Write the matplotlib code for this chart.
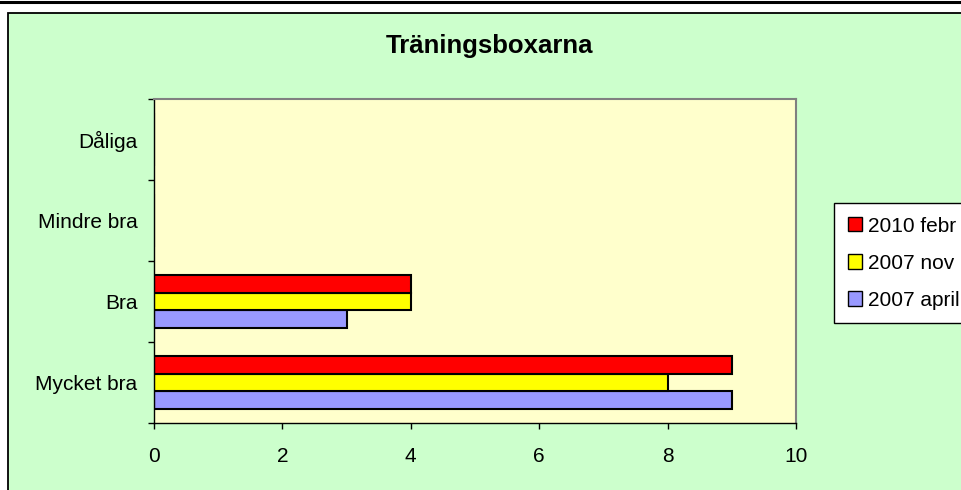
from matplotlib import pyplot as plt
from matplotlib.patches import Rectangle, Patch
from matplotlib.lines import Line2D
import numpy as np

# data
categories = ['Mycket bra', 'Bra', 'Mindre bra', 'Dåliga']
series_names = ['2007 april', '2007 nov', '2010 febr']
april_2007 = [9, 3, 0, 0]
nov_2007 = [8, 4, 0, 0]
febr_2010 = [9, 4, 0, 0]
xticks = [0, 2, 4, 6, 8, 10]

colors = ['#9999FF', '#FFFF00', '#FF0000']

plt.rcParams['font.family'] = ['Liberation Sans', 'DejaVu Sans']

W, H = 962, 490
fig = plt.figure(figsize=(W / 100, H / 100), dpi=100)
fig.patch.set_facecolor('white')

# chart area (green) and the black line at the very top
fig.patches.append(Rectangle((8 / W, -0.05), 1.0, (H - 13) / H + 0.05,
                             transform=fig.transFigure, facecolor='#CCFFCC',
                             edgecolor='black', linewidth=1.3, zorder=-5))
fig.lines.append(Line2D([0, 1], [1 - 2.5 / H, 1 - 2.5 / H], transform=fig.transFigure,
                        color='black', linewidth=2.2))

ax = fig.add_axes([154 / W, 1 - 423 / H, (796 - 154) / W, (423 - 99) / H])
ax.set_facecolor('#FFFFCC')

y = np.arange(len(categories))
h = 0.222
for i, (vals, name) in enumerate(zip([april_2007, nov_2007, febr_2010], series_names)):
    ax.barh(y + (i - 1) * h, vals, height=h, color=colors[i], edgecolor='black',
            linewidth=1.5, label=name)

ax.set_xlim(0, 10)
ax.set_ylim(-0.5, len(categories) - 0.5)
ax.set_xticks(xticks)
ax.set_xticklabels([str(t) for t in xticks], fontsize=15)
ax.tick_params(axis='x', direction='out', length=4.5, width=1, pad=13)

ax.set_yticks(np.arange(-0.5, len(categories), 1.0))
ax.set_yticklabels([])
ax.set_yticks(y, minor=True)
ax.set_yticklabels(categories, minor=True, fontsize=15)
ax.tick_params(axis='y', which='major', direction='out', length=4.5, width=1)
ax.tick_params(axis='y', which='minor', length=0, pad=12)

for s in ['top', 'right']:
    ax.spines[s].set_color('#808080')
    ax.spines[s].set_linewidth(1.5)
for s in ['left', 'bottom']:
    ax.spines[s].set_color('black')
    ax.spines[s].set_linewidth(1.0)

fig.text(490 / W, 1 - 46 / H, 'Träningsboxarna', fontsize=18.5, fontweight='bold',
         ha='center', va='center')

handles = [Patch(facecolor=colors[i], edgecolor='black', linewidth=1.0) for i in [2, 1, 0]]
labels = [series_names[i] for i in [2, 1, 0]]
leg = fig.legend(handles, labels, loc='upper left', bbox_to_anchor=(834 / W, 1 - 203 / H),
                 frameon=True, fancybox=False, fontsize=15, handlelength=0.68,
                 handleheight=0.68, handletextpad=0.3, labelspacing=0.87,
                 borderpad=0.65, borderaxespad=0, framealpha=1)
leg.get_frame().set_edgecolor('black')
leg.get_frame().set_linewidth(1.0)

fig.savefig('out.png', dpi=100, facecolor=fig.get_facecolor())
